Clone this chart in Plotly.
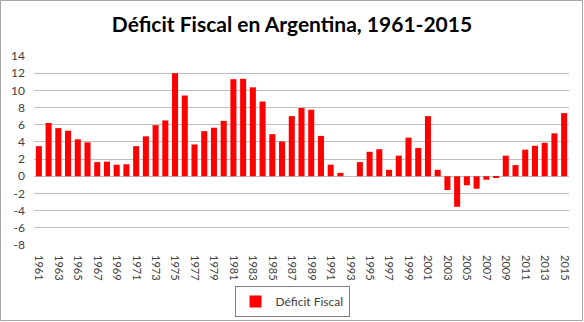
import plotly.graph_objects as go

years = list(range(1961, 2016))
deficit = [3.5, 6.2, 5.6, 5.3, 4.3, 3.95, 1.65, 1.7, 1.35, 1.4,
           3.5, 4.65, 5.95, 6.5, 12.0, 9.4, 3.7, 5.25, 5.65, 6.45,
           11.3, 11.35, 10.35, 8.7, 4.9, 4.05, 7.0, 7.95, 7.75, 4.7,
           1.35, 0.4, 0.0, 1.65, 2.85, 3.15, 0.75, 2.4, 4.5, 3.3,
           7.0, 0.75, -1.6, -3.55, -1.05, -1.45, -0.4, -0.15, 2.4, 1.3,
           3.1, 3.55, 3.9, 5.0, 7.35]
tick_years = [str(y) for y in range(1961, 2016, 2)]
y_ticks = list(range(-8, 15, 2))
y_ticktext = [str(v) for v in y_ticks]

W, H = 584, 322
ml, mr, mt, mb = 34, 15, 56, 77
pw, ph = W - ml - mr, H - mt - mb

fig = go.Figure()
fig.add_trace(go.Bar(
    x=[str(y) for y in years], y=deficit, name="Déficit Fiscal",
    marker=dict(color="#ff0000", line=dict(width=0)),
))

fig.update_layout(
    width=W, height=H,
    margin=dict(l=ml, r=mr, t=mt, b=mb, autoexpand=False),
    paper_bgcolor="white", plot_bgcolor="white",
    font=dict(family="Lato, Carlito, sans-serif", color="#404040", size=11),
    title=dict(text="<b>Déficit Fiscal en Argentina, 1961-2015</b>",
               x=0.5, xanchor="center", y=1 - 25 / H, yanchor="middle",
               font=dict(size=21, color="#000000")),
    bargap=0.38,
    showlegend=True,
    legend=dict(orientation="h", x=(292 - ml) / pw, xanchor="center",
                y=(ph - (301.5 - mt)) / ph, yanchor="middle",
                bordercolor="#808080", borderwidth=1, itemwidth=30,
                font=dict(size=12, color="#404040")),
    xaxis=dict(type="category", tickmode="array", tickvals=tick_years,
               ticktext=tick_years, tickangle=90, showgrid=False,
               showline=False, ticks="", ticklabelstandoff=9,
               automargin=False,
               tickfont=dict(size=11, color="#404040")),
    yaxis=dict(range=[-8, 14], tickvals=y_ticks, ticktext=y_ticktext,
               showgrid=True, automargin=False,
               gridcolor="#bfbfbf", gridwidth=1, zeroline=True,
               zerolinecolor="#bfbfbf", zerolinewidth=1, showline=False,
               ticks="", ticklabelstandoff=8,
               tickfont=dict(size=12, color="#404040")),
    shapes=[dict(type="rect", xref="paper", yref="paper",
                 x0=(0.5 - ml) / pw, x1=(W - 1.5 - ml) / pw,
                 y0=-(H - 1.5 - mt - ph) / ph, y1=(ph + mt - 0.5) / ph,
                 line=dict(color="#a6a6a6", width=1), layer="below")],
)

fig.write_html("out.html")
